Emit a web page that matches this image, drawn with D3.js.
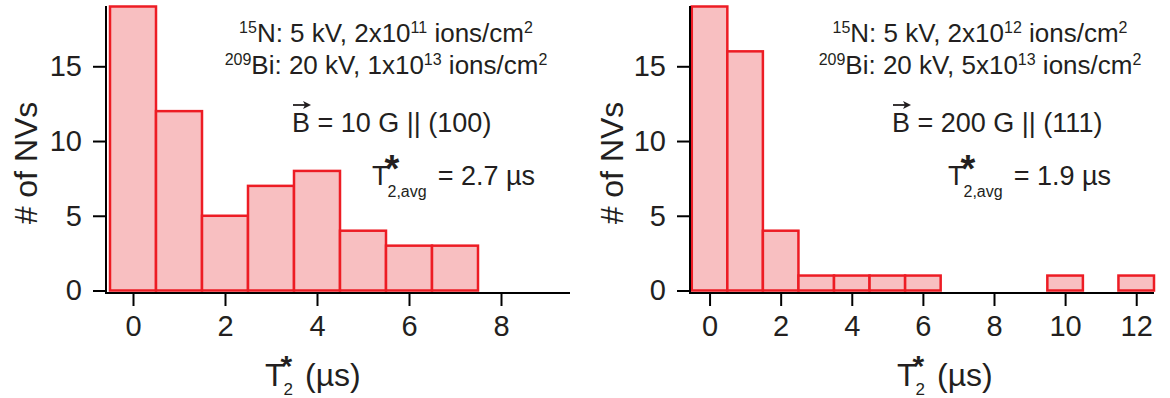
<!DOCTYPE html>
<html>
<head>
<meta charset="utf-8">
<script src="https://cdn.jsdelivr.net/npm/d3@7/dist/d3.min.js"></script>
<style>
  html, body { margin: 0; padding: 0; background: #fff; }
  svg { display: block; }
  text { font-family: "Liberation Sans", Arial, Helvetica, sans-serif; fill: #231f20; }
</style>
</head>
<body>
<svg id="chart" width="1170" height="398"></svg>
<script>
// ---- data ----
const binsLeft = [0, 1, 2, 3, 4, 5, 6, 7, 8, 9];
const countsLeft = [19, 12, 5, 7, 8, 4, 3, 3, 0, 0];
const binsRight = [0, 1, 2, 3, 4, 5, 6, 7, 8, 9, 10, 11, 12];
const countsRight = [19, 16, 4, 1, 1, 1, 1, 0, 0, 0, 1, 0, 1];
const xTicksLeft = [0, 2, 4, 6, 8];
const xTicksRight = [0, 2, 4, 6, 8, 10, 12];
const yTicks = [0, 5, 10, 15];
const yLabel = "# of NVs";
const line1Left = [["15", 1], ["N: 5 kV, 2x10", 0], ["11", 1], [" ions/cm", 0], ["2", 1]];
const line2Left = [["209", 1], ["Bi: 20 kV, 1x10", 0], ["13", 1], [" ions/cm", 0], ["2", 1]];
const line1Right = [["15", 1], ["N: 5 kV, 2x10", 0], ["12", 1], [" ions/cm", 0], ["2", 1]];
const line2Right = [["209", 1], ["Bi: 20 kV, 5x10", 0], ["13", 1], [" ions/cm", 0], ["2", 1]];
const fieldLeft = "B = 10 G || (100)";
const fieldRight = "B = 200 G || (111)";
const avgLeft = "= 2.7 \u00b5s";
const avgRight = "= 1.9 \u00b5s";

// ---- layout ----
const svg = d3.select("#chart");
const FILL = "#f8bfc1", STROKE = "#ed1c24", INK = "#231f20";
const yScale = d3.scaleLinear().domain([0, 19]).range([290.5, 6.5]);
const axisY = 293;

const panels = [
  { bins: binsLeft, counts: countsLeft, ticks: xTicksLeft, x0: 106, x1: 570, dom: [-0.587, 9.5],
    ylabX: 37, titleX: 265, l1: line1Left, l2: line2Left, cx: 386, field: fieldLeft, fx: 292, avg: avgLeft, tx: 372 },
  { bins: binsRight, counts: countsRight, ticks: xTicksRight, x0: 690, x1: 1154, dom: [-0.55, 12.5],
    ylabX: 623, titleX: 897, l1: line1Right, l2: line2Right, cx: 980, field: fieldRight, fx: 892, avg: avgRight, tx: 948 }
];

function supText(g, parts, x, y, size, supSize) {
  const t = g.append("text").attr("x", x).attr("y", y).attr("text-anchor", "middle")
    .style("font-size", size + "px");
  let raised = false;
  parts.forEach(([s, sup]) => {
    const ts = t.append("tspan").text(s);
    if (sup && !raised) { ts.attr("dy", -9); raised = true; }
    else if (!sup && raised) { ts.attr("dy", 9); raised = false; }
    ts.style("font-size", (sup ? supSize : size) + "px");
  });
}

function tStar(g, x, y, size, starSize, starDx, starDy, sub, subSize, subDy) {
  const T = g.append("text").attr("x", x).attr("y", y).style("font-size", size + "px").text("T");
  const tw = T.node().getComputedTextLength();
  g.append("text").attr("x", x + tw + starDx).attr("y", y + starDy)
    .style("font-size", starSize + "px").style("font-weight", "bold").text("*");
  const S = g.append("text").attr("x", x + tw - 1).attr("y", y + subDy).style("font-size", subSize + "px").text(sub);
  return x + tw - 1 + S.node().getComputedTextLength();
}

panels.forEach(p => {
  const g = svg.append("g");
  const x = d3.scaleLinear().domain(p.dom).range([p.x0, p.x1]);

  // bars
  g.selectAll("rect.bar").data(p.bins).join("rect")
    .attr("class", "bar")
    .attr("x", d => x(d - 0.5))
    .attr("width", d => x(d + 0.5) - x(d - 0.5))
    .attr("y", (d, i) => yScale(p.counts[i]))
    .attr("height", (d, i) => yScale(0) - yScale(p.counts[i]))
    .attr("fill", FILL).attr("stroke", STROKE).attr("stroke-width", 2.5);

  // y axis
  const ya = g.append("g").attr("transform", `translate(${p.x0},0)`)
    .call(d3.axisLeft(yScale).tickValues(yTicks).tickSizeInner(13).tickSizeOuter(0).tickPadding(11));
  ya.select(".domain").remove();
  ya.selectAll("line").attr("stroke", "#000").attr("stroke-width", 2);
  ya.selectAll("text").style("font-size", "29px").attr("fill", INK)
    .style("font-family", '"Liberation Sans", Arial, sans-serif');

  // x axis
  const xa = g.append("g").attr("transform", `translate(0,${axisY})`)
    .call(d3.axisBottom(x).tickValues(p.ticks).tickSizeInner(13).tickSizeOuter(0).tickPadding(9));
  xa.select(".domain").remove();
  xa.selectAll("line").attr("stroke", "#000").attr("stroke-width", 2);
  xa.selectAll("text").style("font-size", "29px").attr("fill", INK)
    .style("font-family", '"Liberation Sans", Arial, sans-serif');

  // axis lines
  g.append("line").attr("x1", p.x0).attr("x2", p.x0).attr("y1", 6).attr("y2", axisY + 1)
    .attr("stroke", "#000").attr("stroke-width", 2);
  g.append("line").attr("x1", p.x0 - 1).attr("x2", p.x1).attr("y1", axisY).attr("y2", axisY)
    .attr("stroke", "#000").attr("stroke-width", 2);

  // y label
  g.append("text").attr("transform", `translate(${p.ylabX},163) rotate(-90)`)
    .attr("text-anchor", "middle").style("font-size", "32px").text(yLabel);

  // x label
  const end = tStar(g, p.titleX, 386, 32, 30, -4, -10, "2", 17, 9);
  g.append("text").attr("x", end + 12).attr("y", 386).style("font-size", "32px").text("(\u00b5s)");

  // annotation lines
  supText(g, p.l1, p.cx, 42, 26, 16);
  supText(g, p.l2, p.cx, 74, 26, 16);

  // field line with vector arrow
  const F = g.append("text").attr("x", p.fx).attr("y", 132).style("font-size", "27px").text(p.field);
  const bw = F.node().getSubStringLength(0, 1);
  const ay = 105;
  g.append("line").attr("x1", p.fx + 1).attr("x2", p.fx + bw - 4).attr("y1", ay).attr("y2", ay)
    .attr("stroke", INK).attr("stroke-width", 1.8);
  g.append("path")
    .attr("d", `M${p.fx + bw + 1},${ay} L${p.fx + bw - 7},${ay - 4} L${p.fx + bw - 5},${ay} L${p.fx + bw - 7},${ay + 4} Z`)
    .attr("fill", INK);

  // average line
  const e2 = tStar(g, p.tx, 185, 27, 38, -4, -3, "2,avg", 16, 12);
  g.append("text").attr("x", e2 + 11).attr("y", 185).style("font-size", "27px").text(p.avg);
});
</script>
</body>
</html>
